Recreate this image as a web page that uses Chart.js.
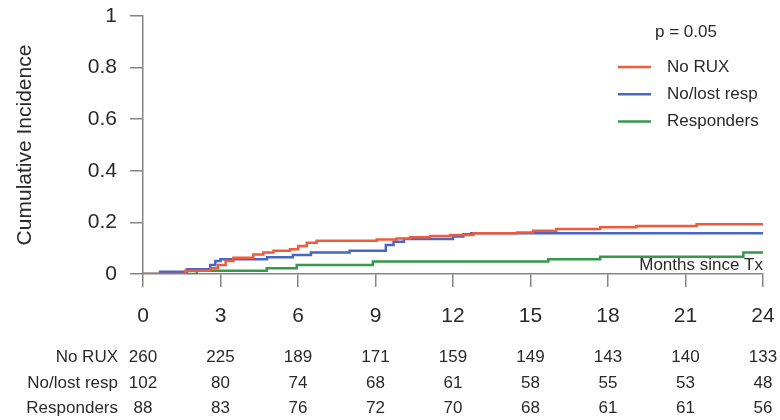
<!DOCTYPE html>
<html>
<head>
<meta charset="utf-8">
<script src="https://cdn.jsdelivr.net/npm/chart.js@4"></script>
<style>
  html, body { margin: 0; padding: 0; background: #fff; }
  #wrap { width: 780px; height: 420px; }
</style>
</head>
<body>
<div id="wrap"><canvas id="c" width="780" height="420"></canvas></div>
<script>
// Cumulative incidence step curves (months since Tx, incidence)
const noRuxMonths   = [0, 1.63, 2.6, 2.9, 3.2, 3.5, 4.27, 4.66, 5.05, 5.69, 6.01, 6.34, 6.72, 9.05, 9.82, 10.34, 11.11, 11.89, 12.79, 14.47, 15.1, 16.0, 17.7, 19.1, 21.43, 24];
const noRuxCI       = [0, 0.013, 0.022, 0.035, 0.05, 0.063, 0.076, 0.083, 0.09, 0.096, 0.109, 0.121, 0.129, 0.134, 0.138, 0.142, 0.147, 0.151, 0.158, 0.161, 0.168, 0.174, 0.181, 0.186, 0.193, 0.193];

const lostRespMonths = [0, 0.66, 1.7, 2.6, 2.8, 3.0, 4.8, 5.8, 6.5, 8.0, 9.4, 9.7, 10.1, 12.0, 12.4, 12.7, 24];
const lostRespCI     = [0, 0.009, 0.018, 0.035, 0.05, 0.057, 0.065, 0.074, 0.083, 0.09, 0.112, 0.125, 0.136, 0.145, 0.154, 0.158, 0.158];

const respMonths = [0, 2.08, 4.79, 5.95, 8.9, 15.69, 17.7, 23.24, 24];
const respCI     = [0, 0.013, 0.022, 0.035, 0.048, 0.057, 0.067, 0.083, 0.083];

// Group names and colours
const groupNames  = ['No RUX', 'No/lost resp', 'Responders'];
const groupColors = ['#ef5b3b', '#4866c2', '#36984a'];

// Axis ticks
const xTicks = [0, 3, 6, 9, 12, 15, 18, 21, 24];
const yTicks = [0, 0.2, 0.4, 0.6, 0.8, 1];
const yTickLabels = ['0', '0.2', '0.4', '0.6', '0.8', '1'];

// Numbers at risk at each x tick
const atRiskNoRux    = [260, 225, 189, 171, 159, 149, 143, 140, 133];
const atRiskLostResp = [102, 80, 74, 68, 61, 58, 55, 53, 48];
const atRiskResp     = [88, 83, 76, 72, 70, 68, 61, 61, 56];

const pValueText = 'p = 0.05';
const xTitleText = 'Months since Tx';
const yTitleText = 'Cumulative Incidence';

const FONT = '"Liberation Sans", Arial, Helvetica, sans-serif';
const AXIS_COLOR = '#858585';
const TEXT_COLOR = '#2a2a2a';

function toPoints(xs, ys) { return xs.map((x, i) => ({ x: x, y: ys[i] })); }

const series = [
  toPoints(noRuxMonths, noRuxCI),
  toPoints(lostRespMonths, lostRespCI),
  toPoints(respMonths, respCI)
];
const atRisk = [atRiskNoRux, atRiskLostResp, atRiskResp];

// Legend, p-value, inner x title and the at-risk table
const annotations = {
  id: 'annotations',
  afterDraw(chart) {
    const ctx = chart.ctx;
    const xs = chart.scales.x;
    ctx.save();
    ctx.fillStyle = TEXT_COLOR;

    // p-value
    ctx.font = '17px ' + FONT;
    ctx.textAlign = 'center';
    ctx.textBaseline = 'middle';
    ctx.fillText(pValueText, 686, 32);

    // legend
    chart.data.datasets.forEach((ds, i) => {
      const y = 67 + i * 27.3;
      ctx.strokeStyle = ds.borderColor;
      ctx.lineWidth = 2.5;
      ctx.beginPath();
      ctx.moveTo(618, y);
      ctx.lineTo(651, y);
      ctx.stroke();
      ctx.textAlign = 'left';
      ctx.fillText(ds.label, 667, y);
    });

    // x title inside the plot corner
    ctx.textAlign = 'right';
    ctx.fillText(xTitleText, xs.right, 265);

    // numbers at risk
    const rowY = [357, 383, 408];
    groupNames.forEach((name, r) => {
      ctx.textAlign = 'right';
      ctx.fillText(name, 118, rowY[r]);
      ctx.textAlign = 'center';
      atRisk[r].forEach((n, k) => {
        ctx.fillText(String(n), xs.getPixelForValue(xTicks[k]), rowY[r]);
      });
    });
    ctx.restore();
  }
};

new Chart(document.getElementById('c'), {
  type: 'line',
  data: {
    datasets: series.map((pts, i) => ({
      label: groupNames[i],
      data: pts,
      borderColor: groupColors[i],
      backgroundColor: groupColors[i],
      borderWidth: 2.5,
      pointRadius: 0,
      stepped: 'before',
      fill: false
    }))
  },
  options: {
    responsive: false,
    animation: false,
    layout: { padding: { left: 0, right: 17, top: 16, bottom: 0 } },
    plugins: {
      legend: { display: false },
      tooltip: { enabled: false }
    },
    scales: {
      x: {
        type: 'linear',
        min: 0,
        max: 24,
        afterBuildTicks(scale) { scale.ticks = xTicks.map(v => ({ value: v })); },
        afterFit(scale) {
          scale.height = 146;
          scale.paddingLeft = 0;
          scale.paddingRight = 0;
        },
        grid: { drawOnChartArea: false, drawTicks: true, tickLength: 13, color: AXIS_COLOR, lineWidth: 1.5 },
        border: { display: true, color: AXIS_COLOR, width: 1.5 },
        ticks: { color: TEXT_COLOR, font: { family: FONT, size: 21 }, padding: 17, maxRotation: 0 }
      },
      y: {
        type: 'linear',
        min: 0,
        max: 1,
        afterBuildTicks(scale) { scale.ticks = yTicks.map(v => ({ value: v })); },
        afterFit(scale) {
          scale.width = 143;
          scale.paddingTop = 0;
          scale.paddingBottom = 0;
        },
        grid: { drawOnChartArea: false, drawTicks: true, tickLength: 13, color: AXIS_COLOR, lineWidth: 1.5 },
        border: { display: true, color: AXIS_COLOR, width: 1.5 },
        ticks: {
          color: TEXT_COLOR,
          font: { family: FONT, size: 21 },
          padding: 13,
          callback: (v) => yTickLabels[yTicks.indexOf(v)] ?? ''
        },
        title: {
          display: true,
          text: yTitleText,
          color: TEXT_COLOR,
          font: { family: FONT, size: 21 },
          padding: { top: 13, bottom: 0 }
        }
      }
    }
  },
  plugins: [annotations]
});
</script>
</body>
</html>
